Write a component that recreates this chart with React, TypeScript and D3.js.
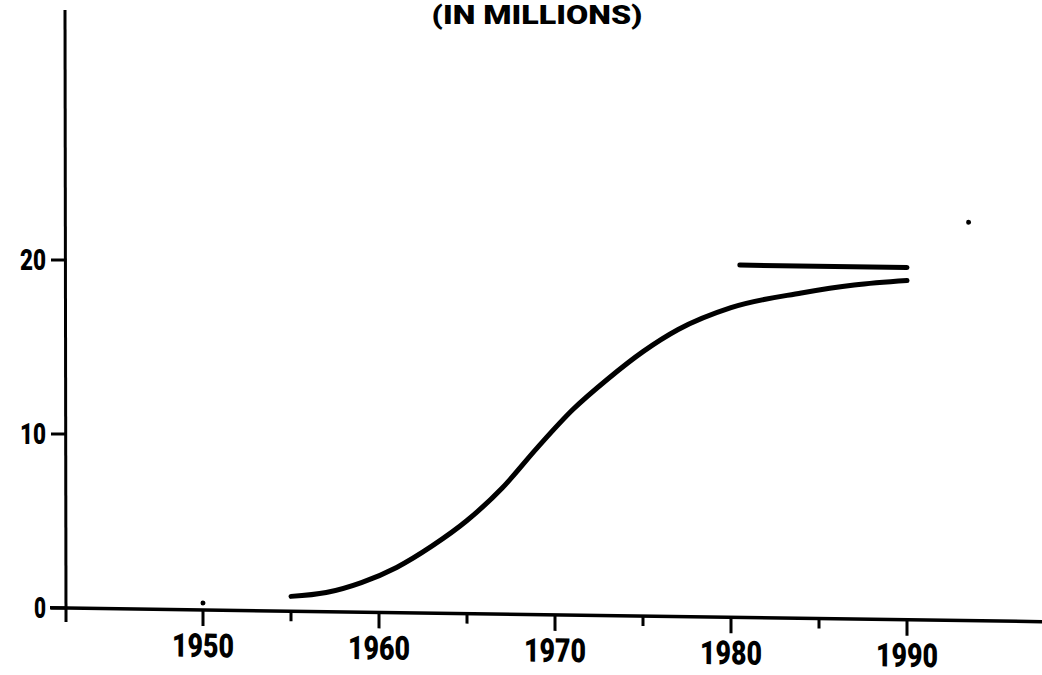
import React from "react";
import * as d3 from "d3";

// Curve (millions)
const curveYears = [1955, 1957, 1959, 1961, 1963, 1965, 1967, 1969, 1971, 1973, 1975, 1977, 1980, 1984, 1987, 1990];
const curveValues = [0.85, 1.1, 1.7, 2.6, 3.85, 5.35, 7.25, 9.6, 11.8, 13.6, 15.2, 16.5, 17.8, 18.7, 19.2, 19.5];

// Flat level line
const levelYears = [1980.5, 1990];
const levelValues = [20.25, 20.25];

// Small specks in the scan
const speckYears = [1950, 1993.5];
const speckValues = [0.4, 22.9];

const xMajorTicks = [1950, 1960, 1970, 1980, 1990];
const xMinorTicks = [1955, 1965, 1975, 1985];
const yTicks = [0, 10, 20];
const titleText = "(IN MILLIONS)";

const W = 1042;
const H = 675;
const AXIS_X = 65;
const SKEW = 0.014;

export default function App() {
  const x = d3.scaleLinear().domain([1950, 1990]).range([203, 907]);
  const y = d3.scaleLinear().domain([0, 20]).range([608, 260]);

  const line = d3
    .line<[number, number]>()
    .x((d) => x(d[0]))
    .y((d) => y(d[1]))
    .curve(d3.curveMonotoneX);

  const curveData: [number, number][] = curveYears.map((yr, i) => [yr, curveValues[i]]);
  const levelData: [number, number][] = levelYears.map((yr, i) => [yr, levelValues[i]]);

  const font = "Roboto, 'Liberation Sans', Arial, sans-serif";
  const y0 = y(0);

  return (
    <svg
      width={W}
      height={H}
      viewBox={`0 0 ${W} ${H}`}
      style={{ position: "absolute", left: 0, top: 0, background: "#fff" }}
    >
      <rect x={0} y={0} width={W} height={H} fill="#fff" />
      <text
        x={537}
        y={24}
        textAnchor="middle"
        fontFamily={font}
        fontWeight={900}
        fontSize={26}
        textLength={211}
        lengthAdjust="spacingAndGlyphs"
        fill="#000"
      >
        {titleText}
      </text>

      {/* y axis (vertical) */}
      <line x1={AXIS_X} x2={AXIS_X + 1} y1={10} y2={y0 + 14} stroke="#000" strokeWidth={3} />
      {yTicks.map((t) => (
        <g key={"yt" + t}>
          <line x1={AXIS_X - 14} x2={AXIS_X} y1={y(t)} y2={y(t)} stroke="#000" strokeWidth={3} />
          <text
            x={46}
            y={y(t) + 10}
            textAnchor="end"
            fontFamily={font}
            fontWeight={900}
            fontSize={29}
            textLength={t === 0 ? 12 : 26}
            lengthAdjust="spacingAndGlyphs"
            fill="#000"
          >
            {t}
          </text>
        </g>
      ))}

      {/* skewed plot body, as in the scan */}
      <g transform={`matrix(1, ${SKEW}, 0, 1, 0, ${-SKEW * AXIS_X})`}>
        <line x1={AXIS_X - 15} x2={W} y1={y0} y2={y0} stroke="#000" strokeWidth={3.5} />
        {xMajorTicks.map((t) => (
          <g key={"xt" + t}>
            <line x1={x(t)} x2={x(t)} y1={y0} y2={y0 + 16} stroke="#000" strokeWidth={3} />
            <text
              x={x(t)}
              y={y0 + 47}
              textAnchor="middle"
              fontFamily={font}
              fontWeight={900}
              fontSize={33}
              textLength={62}
              lengthAdjust="spacingAndGlyphs"
              fill="#000"
            >
              {t}
            </text>
          </g>
        ))}
        {xMinorTicks.map((t) => (
          <line key={"xm" + t} x1={x(t)} x2={x(t)} y1={y0} y2={y0 + 10} stroke="#000" strokeWidth={3} />
        ))}
        <path d={line(curveData) || ""} fill="none" stroke="#000" strokeWidth={5} strokeLinecap="round" />
        <path d={line(levelData) || ""} fill="none" stroke="#000" strokeWidth={5} strokeLinecap="round" />
        {speckYears.map((yr, i) => (
          <circle key={"s" + i} cx={x(yr)} cy={y(speckValues[i])} r={2.5} fill="#000" />
        ))}
      </g>
    </svg>
  );
}
